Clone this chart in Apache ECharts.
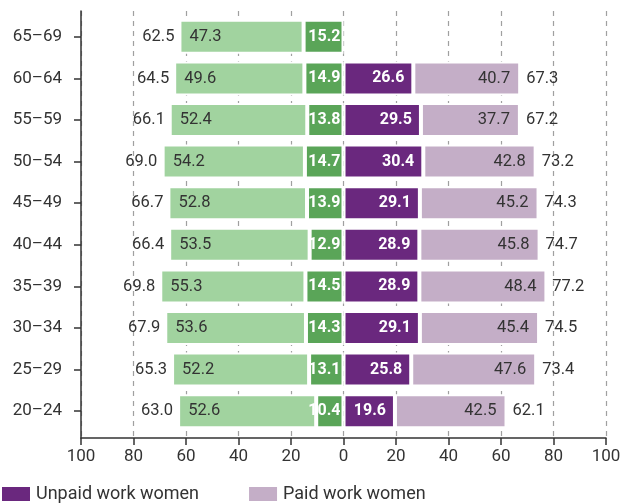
<!DOCTYPE html>
<html>
<head>
<meta charset="utf-8">
<script src="https://cdn.jsdelivr.net/npm/echarts@6/dist/echarts.min.js"></script>
<style>
html,body{margin:0;padding:0;background:#fff;}
#chart{width:629px;height:504px;}
</style>
</head>
<body>
<div id="chart"></div>
<script>
// Data (bottom row first)
const ageGroups = ['20–24','25–29','30–34','35–39','40–44','45–49','50–54','55–59','60–64','65–69'];
const menUnpaid = [10.4, 13.1, 14.3, 14.5, 12.9, 13.9, 14.7, 13.8, 14.9, 15.2];
const menPaid   = [52.6, 52.2, 53.6, 55.3, 53.5, 52.8, 54.2, 52.4, 49.6, 47.3];
const menTotal  = [63.0, 65.3, 67.9, 69.8, 66.4, 66.7, 69.0, 66.1, 64.5, 62.5];
const womenUnpaid = [19.6, 25.8, 29.1, 28.9, 28.9, 29.1, 30.4, 29.5, 26.6, null];
const womenPaid   = [42.5, 47.6, 45.4, 48.4, 45.8, 45.2, 42.8, 37.7, 40.7, null];
const womenTotal  = [62.1, 73.4, 74.5, 77.2, 74.7, 74.3, 73.2, 67.2, 67.3, null];
const xTicks = [-100, -80, -60, -40, -20, 0, 20, 40, 60, 80, 100];

const FONT = 'Roboto,"Liberation Sans",sans-serif';
const TXT = '#333333';
const C = {
  darkGreen: '#5aa558', lightGreen: '#a1d39f',
  darkPurple: '#6a287e', lightPurple: '#c4aec7'
};

const fmt = v => Math.abs(v).toFixed(1);
const neg = arr => arr.map(v => v == null ? '-' : -v);
const pos = arr => arr.map(v => v == null ? '-' : v);

const chart = echarts.init(document.getElementById('chart'), null, {renderer: 'canvas'});

const barBase = {
  type: 'bar', stack: 'all', xAxisIndex: 1, yAxisIndex: 1,
  barWidth: 34,
  itemStyle: {borderColor: '#ffffff', borderWidth: 2}
};

chart.setOption({
  animation: false,
  textStyle: {fontFamily: FONT},
  grid: [
    {left: 81, right: 23, top: 11, bottom: 66},
    {left: 81, right: 23, top: 16, bottom: 72}
  ],
  xAxis: [
    {
      gridIndex: 0, type: 'value', min: -100, max: 100, interval: 20,
      axisLine: {show: true, onZero: false, lineStyle: {color: TXT, width: 1.5}},
      axisTick: {show: true, length: 7, lineStyle: {color: TXT, width: 1.5}},
      axisLabel: {fontFamily: FONT, fontSize: 17, color: TXT, margin: 10,
                  customValues: xTicks, formatter: v => String(Math.abs(v))},
      splitLine: {show: true, lineStyle: {color: '#a0a0a0', width: 1.2, type: [5, 5]}}
    },
    {
      gridIndex: 1, type: 'value', min: -100, max: 100, interval: 20, show: false
    }
  ],
  yAxis: [
    {
      gridIndex: 0, type: 'value', min: 0, max: 1,
      axisLine: {show: true, onZero: false, lineStyle: {color: TXT, width: 1.5}},
      axisTick: {show: false}, axisLabel: {show: false}, splitLine: {show: false}
    },
    {
      gridIndex: 1, type: 'category', data: ageGroups,
      axisLine: {show: false, onZero: false},
      axisTick: {show: true, alignWithLabel: true, length: 7, lineStyle: {color: TXT, width: 1.5}},
      axisLabel: {fontFamily: FONT, fontSize: 17, color: TXT, margin: 19},
      splitLine: {show: false}
    }
  ],
  legend: {
    left: 0, top: 485, padding: 0, itemWidth: 30, itemHeight: 16, itemGap: 48,
    icon: 'rect',
    textStyle: {fontFamily: FONT, fontSize: 18, color: TXT},
    data: ['Unpaid work women', 'Paid work women']
  },
  series: [
    Object.assign({}, barBase, {
      name: 'Unpaid work men', data: neg(menUnpaid),
      itemStyle: Object.assign({}, barBase.itemStyle, {color: C.darkGreen}),
      label: {show: true, position: 'insideRight', distance: 3, color: '#fff',
               fontFamily: FONT, fontSize: 16, fontWeight: 'bold',
               formatter: p => fmt(p.value)}
    }),
    Object.assign({}, barBase, {
      name: 'Paid work men', data: neg(menPaid),
      itemStyle: Object.assign({}, barBase.itemStyle, {color: C.lightGreen}),
      label: {show: true, position: 'insideLeft', distance: 10, color: TXT,
               fontFamily: FONT, fontSize: 16.5,
               formatter: p => fmt(p.value)}
    }),
    Object.assign({}, barBase, {
      name: 'Unpaid work women', data: pos(womenUnpaid),
      itemStyle: Object.assign({}, barBase.itemStyle, {color: C.darkPurple}),
      label: {show: true, position: 'insideRight', distance: 9, color: '#fff',
               fontFamily: FONT, fontSize: 16, fontWeight: 'bold',
               formatter: p => fmt(p.value)}
    }),
    Object.assign({}, barBase, {
      name: 'Paid work women', data: pos(womenPaid),
      itemStyle: Object.assign({}, barBase.itemStyle, {color: C.lightPurple}),
      label: {show: true, position: 'insideRight', distance: 10, color: TXT,
               fontFamily: FONT, fontSize: 16.5,
               formatter: p => fmt(p.value)}
    }),
    {
      name: 'Total men', type: 'scatter', xAxisIndex: 1, yAxisIndex: 1,
      symbolSize: 0, itemStyle: {color: TXT, opacity: 1},
      data: menTotal.map((v, i) => [-v, ageGroups[i]]),
      label: {show: true, position: 'left', distance: 5, color: TXT,
              fontFamily: FONT, fontSize: 16.5, formatter: p => fmt(p.value[0])}
    },
    {
      name: 'Total women', type: 'scatter', xAxisIndex: 1, yAxisIndex: 1,
      symbolSize: 0, itemStyle: {color: TXT, opacity: 1},
      data: womenTotal.map((v, i) => v == null ? null : [v, ageGroups[i]]).filter(d => d),
      label: {show: true, position: 'right', distance: 6, color: TXT,
              fontFamily: FONT, fontSize: 16.5, formatter: p => fmt(p.value[0])}
    }
  ]
});
</script>
</body>
</html>
